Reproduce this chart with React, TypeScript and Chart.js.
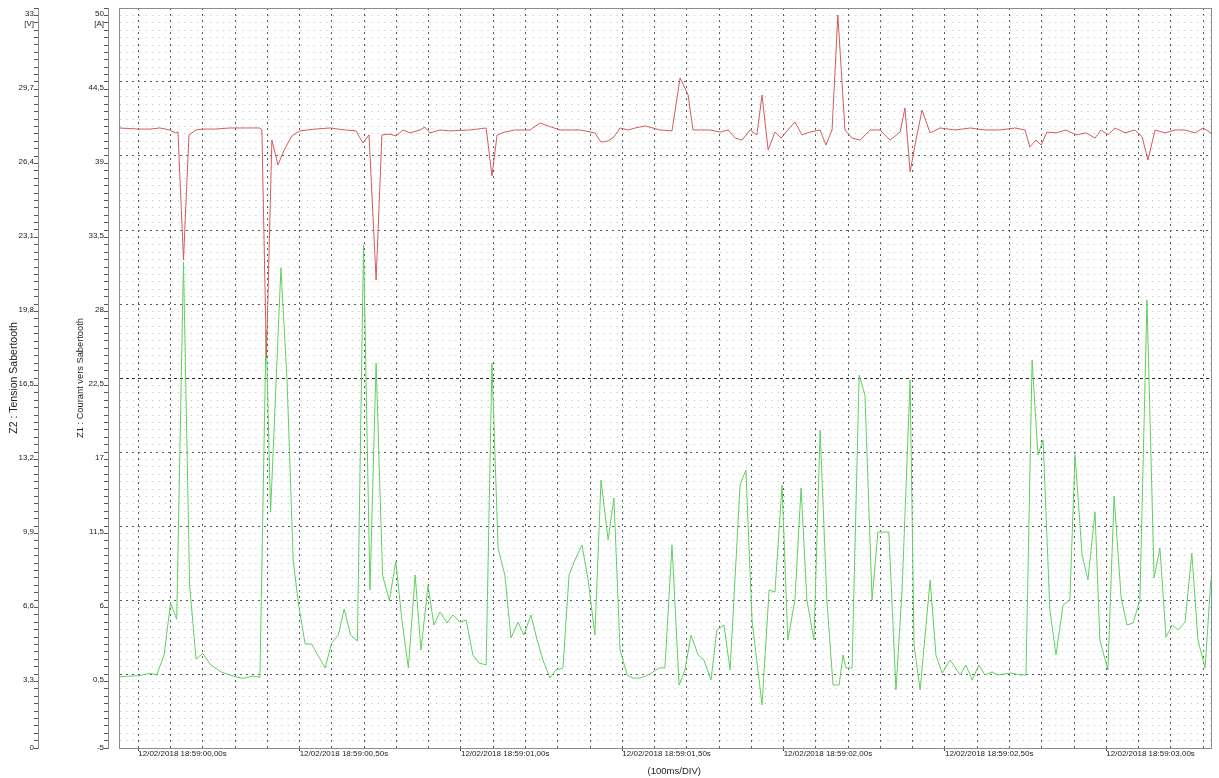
import { useEffect, useRef } from 'react';
import { Chart, registerables } from 'chart.js';

Chart.register(...registerables);

// ---- Data (time in seconds relative to 12/02/2018 18:59:00,00) ----
const currentTimes = [
  -0.059, 0.000, 0.036, 0.057, 0.080, 0.100, 0.119, 0.140, 0.159, 0.179,
  0.200, 0.222, 0.258, 0.300, 0.325, 0.356, 0.377, 0.396, 0.410, 0.442,
  0.461, 0.480, 0.496, 0.517, 0.537, 0.579, 0.599, 0.620, 0.638, 0.658,
  0.679, 0.698, 0.718, 0.737, 0.757, 0.778, 0.798, 0.817, 0.837, 0.858,
  0.876, 0.898, 0.916, 0.935, 0.957, 0.975, 0.997, 1.016, 1.037, 1.056,
  1.078, 1.096, 1.115, 1.136, 1.155, 1.177, 1.195, 1.217, 1.236, 1.254,
  1.276, 1.294, 1.316, 1.335, 1.353, 1.375, 1.394, 1.415, 1.434, 1.456,
  1.474, 1.493, 1.515, 1.533, 1.555, 1.573, 1.595, 1.614, 1.632, 1.654,
  1.676, 1.694, 1.713, 1.735, 1.753, 1.775, 1.793, 1.815, 1.834, 1.865,
  1.883, 1.902, 1.933, 1.955, 1.973, 1.995, 2.013, 2.035, 2.054, 2.072,
  2.094, 2.113, 2.134, 2.153, 2.172, 2.184, 2.193, 2.212, 2.234, 2.252,
  2.274, 2.292, 2.326, 2.348, 2.367, 2.392, 2.404, 2.423, 2.454, 2.472,
  2.491, 2.516, 2.547, 2.565, 2.584, 2.605, 2.624, 2.646, 2.664, 2.705,
  2.732, 2.751, 2.770, 2.788, 2.804, 2.825, 2.844, 2.866, 2.887, 2.903,
  2.925, 2.943, 2.965, 2.980, 3.005, 3.024, 3.046, 3.064, 3.083, 3.104,
  3.126, 3.148, 3.166, 3.185, 3.204, 3.222, 3.244, 3.265, 3.284, 3.306, 3.324,
];

const currentValues = [
  0.30, 0.37, 0.55, 0.43, 1.91, 5.80, 4.57, 31.12, 7.11, 1.61,
  2.04, 1.24, 0.63, 0.30, 0.18, 0.35, 0.25, 26.07, 12.54, 30.68,
  22.35, 8.97, 5.78, 2.73, 2.73, 0.95, 2.80, 3.40, 5.33, 3.40,
  2.95, 32.39, 6.74, 23.61, 7.86, 5.95, 8.85, 4.51, 0.95, 7.86,
  2.28, 7.11, 4.14, 5.11, 4.29, 4.89, 4.36, 4.51, 1.91, 1.32,
  1.17, 23.61, 9.86, 7.86, 3.18, 4.36, 3.40, 4.89, 3.03, 1.54,
  0.20, 0.80, 0.95, 7.86, 8.97, 10.09, 7.49, 3.40, 14.92, 10.46,
  13.58, 2.28, 0.43, 0.20, 0.20, 0.35, 0.65, 0.95, 0.95, 10.09,
  -0.32, 0.80, 3.40, 1.91, 1.54, 0.05, 3.77, 4.14, 0.80, 14.55,
  15.66, 4.51, -1.80, 6.74, 6.59, 14.55, 3.03, 6.00, 14.32, 6.00,
  3.03, 18.64, 6.00, -0.32, -0.32, 1.91, 0.95, 0.95, 22.72, 21.24,
  6.00, 11.05, 11.05, -0.69, 6.74, 22.35, 2.66, -0.69, 7.49, 1.91,
  0.57, 1.54, 0.43, 1.17, 0.05, 1.17, 0.43, 0.65, 0.43, 0.57,
  0.43, 0.43, 23.84, 16.78, 17.89, 5.26, 1.91, 5.63, 6.00, 16.78,
  9.34, 7.49, 12.54, 3.03, 0.80, 13.73, 6.15, 4.14, 4.29, 6.00,
  28.30, 7.64, 9.86, 3.25, 4.14, 3.77, 4.36, 9.49, 3.03, 0.95, 7.49,
];

const voltageTimes = [
  -0.059, 0.000, 0.036, 0.067, 0.098, 0.114, 0.123, 0.140, 0.157, 0.179,
  0.200, 0.238, 0.284, 0.331, 0.377, 0.383, 0.397, 0.414, 0.433, 0.452,
  0.476, 0.501, 0.548, 0.594, 0.641, 0.675, 0.696, 0.715, 0.737, 0.755,
  0.780, 0.799, 0.820, 0.842, 0.873, 0.888, 0.904, 0.935, 0.966, 1.028,
  1.078, 1.096, 1.112, 1.136, 1.167, 1.214, 1.245, 1.270, 1.307, 1.369,
  1.415, 1.434, 1.456, 1.474, 1.493, 1.518, 1.540, 1.571, 1.617, 1.654,
  1.679, 1.704, 1.719, 1.772, 1.803, 1.828, 1.850, 1.871, 1.896, 1.917,
  1.933, 1.952, 1.973, 1.992, 2.013, 2.035, 2.057, 2.082, 2.113, 2.131,
  2.150, 2.168, 2.190, 2.212, 2.237, 2.268, 2.299, 2.330, 2.361, 2.376,
  2.392, 2.410, 2.429, 2.454, 2.485, 2.531, 2.578, 2.624, 2.671, 2.717,
  2.748, 2.763, 2.782, 2.798, 2.816, 2.844, 2.875, 2.906, 2.937, 2.965,
  2.984, 3.005, 3.027, 3.058, 3.089, 3.111, 3.129, 3.151, 3.182, 3.213,
  3.244, 3.275, 3.300, 3.324,
];

const voltageValues = [
  27.65, 27.60, 27.60, 27.65, 27.56, 27.43, 27.47, 21.76, 27.34, 27.56,
  27.60, 27.60, 27.65, 27.65, 27.65, 27.56, 17.39, 27.11, 26.00, 26.67,
  27.29, 27.52, 27.60, 27.65, 27.56, 27.52, 26.98, 27.34, 20.87, 27.34,
  27.38, 27.29, 27.56, 27.43, 27.56, 27.69, 27.43, 27.56, 27.52, 27.56,
  27.65, 25.51, 27.34, 27.47, 27.56, 27.56, 27.87, 27.74, 27.56, 27.56,
  27.43, 27.02, 27.07, 27.25, 27.65, 27.56, 27.65, 27.74, 27.56, 27.52,
  29.88, 29.12, 27.56, 27.56, 27.47, 27.56, 27.20, 27.11, 27.56, 27.34,
  29.12, 26.67, 27.47, 27.20, 27.56, 27.92, 27.34, 27.47, 27.56, 26.89,
  27.56, 32.69, 27.56, 27.20, 27.11, 27.56, 27.56, 27.11, 27.47, 28.54,
  25.69, 27.11, 28.45, 27.43, 27.65, 27.56, 27.65, 27.56, 27.56, 27.65,
  27.56, 26.80, 27.11, 26.89, 27.47, 27.43, 27.56, 27.34, 27.43, 27.20,
  27.56, 27.34, 27.65, 27.43, 27.56, 27.25, 26.22, 27.56, 27.43, 27.56,
  27.56, 27.43, 27.65, 27.43,
];

// ---- Tick labels ----
const timeTickValues = [0, 0.5, 1, 1.5, 2, 2.5, 3];
const timeTickLabels = [
  '12/02/2018 18:59:00,00s',
  '12/02/2018 18:59:00,50s',
  '12/02/2018 18:59:01,00s',
  '12/02/2018 18:59:01,50s',
  '12/02/2018 18:59:02,00s',
  '12/02/2018 18:59:02,50s',
  '12/02/2018 18:59:03,00s',
];
const z1TickValues = [-5, 0.5, 6, 11.5, 17, 22.5, 28, 33.5, 39, 44.5, 50];
const z1TickLabels = ['-5', '0,5', '6', '11,5', '17', '22,5', '28', '33,5', '39', '44,5', '50'];
const z2TickValues = [0, 3.3, 6.6, 9.9, 13.2, 16.5, 19.8, 23.1, 26.4, 29.7, 33];
const z2TickLabels = ['0', '3,3', '6,6', '9,9', '13,2', '16,5', '19,8', '23,1', '26,4', '29,7', '33'];

const X_MIN = -0.0598;
const X_MAX = 3.3244;
const Z1_CENTER = 22.5;
const FONT = 'Liberation Sans';

function findIndex(values: number[], v: number): number {
  for (let i = 0; i < values.length; i++) {
    if (Math.abs(values[i] - v) < 1e-6) return i;
  }
  return -1;
}

function yLabel(values: number[], labels: string[], unit: string, v: number): string | string[] {
  const i = findIndex(values, v);
  if (i < 0) return '';
  if (i === values.length - 1) return ['', '', labels[i], unit];
  if (i === 0) return labels[i];
  return ['', labels[i]];
}

export default function App() {
  const ref = useRef<HTMLCanvasElement>(null);

  useEffect(() => {
    document.body.style.margin = '0';
    const canvas = ref.current;
    if (!canvas) return;

    const isMajorZ1 = (v: number) => findIndex(z1TickValues, v) >= 0;
    const isCenter = (v: number) => Math.abs(v - Z1_CENTER) < 1e-6;

    const chart = new Chart(canvas, {
      type: 'line',
      data: {
        datasets: [
          {
            label: 'Z2 : Tension Sabertooth',
            data: voltageTimes.map((t, i) => ({ x: t, y: voltageValues[i] })),
            xAxisID: 'x',
            yAxisID: 'y2',
            borderColor: '#d65a5a',
            borderWidth: 1,
            pointRadius: 0,
            tension: 0,
            fill: false,
          },
          {
            label: 'Z1 : Courant vers Sabertooth',
            data: currentTimes.map((t, i) => ({ x: t, y: currentValues[i] })),
            xAxisID: 'x',
            yAxisID: 'y',
            borderColor: '#5fd05f',
            borderWidth: 1,
            pointRadius: 0,
            tension: 0,
            fill: false,
          },
        ],
      },
      options: {
        responsive: false,
        animation: false,
        events: [],
        layout: { padding: 0 },
        plugins: { legend: { display: false }, tooltip: { enabled: false } },
        scales: {
          x: {
            type: 'linear',
            axis: 'x',
            position: 'bottom',
            min: X_MIN,
            max: X_MAX,
            afterFit: (s: any) => {
              s.height = 30;
              s.paddingLeft = 0;
              s.paddingRight = 0;
            },
            ticks: {
              stepSize: 0.1,
              autoSkip: false,
              maxRotation: 0,
              minRotation: 0,
              includeBounds: false,
              align: 'start',
              padding: -2,
              color: '#222',
              font: { family: FONT, size: 8 },
              callback: (v: any) => {
                const i = findIndex(timeTickValues, Number(v));
                return i >= 0 ? timeTickLabels[i] : '';
              },
            },
            grid: {
              display: true,
              drawOnChartArea: true,
              drawTicks: true,
              tickLength: 3,
              color: '#5a5a5a',
              lineWidth: 1,
              tickColor: (c: any) =>
                c.tick && findIndex(timeTickValues, c.tick.value) >= 0 ? '#444' : 'rgba(0,0,0,0)',
            },
            border: { display: true, color: '#8c8c8c', dash: [2, 4] },
            title: {
              display: true,
              text: '       (100ms/DIV)',
              color: '#222',
              font: { family: FONT, size: 9.5 },
              padding: { top: 0, bottom: 1.3 },
            },
          },
          xTop: {
            type: 'linear',
            axis: 'x',
            position: 'top',
            min: X_MIN,
            max: X_MAX,
            afterFit: (s: any) => {
              s.height = 8;
              s.paddingLeft = 0;
              s.paddingRight = 0;
            },
            ticks: { display: false },
            grid: { display: false },
            border: { display: true, color: '#8c8c8c' },
          },
          y2: {
            type: 'linear',
            axis: 'y',
            position: 'left',
            weight: 2,
            min: 0,
            max: 33,
            afterFit: (s: any) => {
              s.width = 38;
              s.paddingTop = 0;
              s.paddingBottom = 0;
            },
            ticks: {
              stepSize: 0.33,
              autoSkip: false,
              includeBounds: false,
              padding: 0,
              color: '#222',
              font: { family: FONT, size: 8, lineHeight: 1.35 },
              callback: (v: any) => yLabel(z2TickValues, z2TickLabels, '[V]', Number(v)),
            },
            grid: { drawOnChartArea: false, drawTicks: true, tickLength: 4, tickColor: '#555', color: '#555' },
            border: { display: true, color: '#8c8c8c' },
            title: {
              display: true,
              text: 'Z2 : Tension Sabertooth',
              color: '#222',
              font: { family: FONT, size: 10.5 },
              padding: { top: 7.7, bottom: 0 },
            },
          },
          y: {
            type: 'linear',
            axis: 'y',
            position: 'left',
            weight: 1,
            min: -5,
            max: 50,
            afterFit: (s: any) => {
              s.width = 70;
              s.paddingTop = 0;
              s.paddingBottom = 0;
            },
            ticks: {
              stepSize: 0.55,
              autoSkip: false,
              includeBounds: false,
              padding: 0,
              color: '#222',
              font: { family: FONT, size: 8, lineHeight: 1.35 },
              callback: (v: any) => yLabel(z1TickValues, z1TickLabels, '[A]', Number(v)),
            },
            grid: { drawOnChartArea: false, drawTicks: true, tickLength: 4, tickColor: '#555', color: '#555' },
            border: { display: true, color: '#8c8c8c' },
            title: {
              display: true,
              text: 'Z1 : Courant vers Sabertooth',
              color: '#222',
              font: { family: FONT, size: 9.3 },
              padding: { top: 36.4, bottom: 0 },
            },
          },
          yGrid: {
            type: 'linear',
            axis: 'y',
            position: 'left',
            weight: 0,
            min: -5,
            max: 50,
            afterFit: (s: any) => {
              s.width = 11;
              s.paddingTop = 0;
              s.paddingBottom = 0;
            },
            ticks: { display: false, stepSize: 0.55, autoSkip: false, includeBounds: false },
            grid: {
              drawOnChartArea: true,
              drawTicks: false,
              lineWidth: 1,
              color: (c: any) => {
                if (!c.tick) return '#bbbbbb';
                if (isCenter(c.tick.value)) return '#2a2a2a';
                return isMajorZ1(c.tick.value) ? '#5a5a5a' : '#bdbdbd';
              },
            },
            border: {
              display: true,
              color: '#8c8c8c',
              dash: (c: any) => {
                if (!c.tick) return [];
                if (isCenter(c.tick.value)) return [3, 3];
                return isMajorZ1(c.tick.value) ? [2, 4] : [1, 5.45];
              },
            },
          },
          yRight: {
            type: 'linear',
            axis: 'y',
            position: 'right',
            afterFit: (s: any) => {
              s.width = 8;
              s.paddingTop = 0;
              s.paddingBottom = 0;
            },
            ticks: { display: false },
            grid: { display: false },
            border: { display: true, color: '#8c8c8c' },
          },
        },
      } as any,
    });

    return () => chart.destroy();
  }, []);

  return (
    <div style={{ width: 1219, height: 778 }}>
      <canvas ref={ref} width={1219} height={778} style={{ display: 'block' }} />
    </div>
  );
}
